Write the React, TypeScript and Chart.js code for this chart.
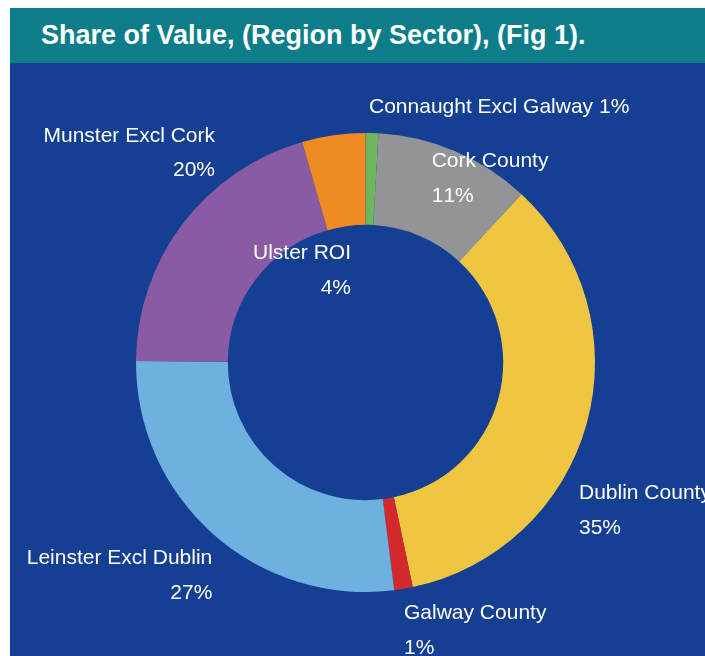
import React, { useEffect, useRef } from "react";
import { Chart, registerables } from "chart.js";

Chart.register(...registerables);

const TITLE = "Share of Value, (Region by Sector), (Fig 1).";

const categories = [
  "Connaught Excl Galway",
  "Cork County",
  "Dublin County",
  "Galway County",
  "Leinster Excl Dublin",
  "Munster Excl Cork",
  "Ulster ROI",
];

const shares = [0.9, 11.0, 34.8, 1.3, 27.1, 20.45, 4.45];

const sliceColors = [
  "#6db65b",
  "#939498",
  "#eec641",
  "#d3292b",
  "#6eb0e0",
  "#8a5ba5",
  "#ee8b22",
];

// Label anchor layout (canvas px): x, baseline of first line, alignment, single-line flag
const labelLayout = [
  { x: 359, y: 50.3, align: "left", oneLine: true },
  { x: 421.7, y: 104.3, align: "left", oneLine: false },
  { x: 569, y: 436, align: "left", oneLine: false },
  { x: 394, y: 556, align: "left", oneLine: false },
  { x: 202.3, y: 501, align: "right", oneLine: false },
  { x: 205, y: 78.7, align: "right", oneLine: false },
  { x: 341, y: 196.3, align: "right", oneLine: false },
];

const PANEL_BG = "#143f92";
const HEADER_BG = "#0c7d89";
const FONT = '"Liberation Sans", Arial, Helvetica, sans-serif';

const labelPlugin = {
  id: "sliceLabels",
  afterDatasetsDraw(chart: any) {
    const ctx = chart.ctx;
    const data = chart.data.datasets[0].data as number[];
    const total = data.reduce((a: number, b: number) => a + b, 0);
    ctx.save();
    ctx.fillStyle = "#ffffff";
    ctx.font = `21px ${FONT}`;
    try {
      (ctx as any).fontKerning = "none";
    } catch (e) {}
    ctx.textBaseline = "alphabetic";
    data.forEach((v: number, i: number) => {
      const pct = Math.round((v / total) * 100) + "%";
      const lay = labelLayout[i];
      const lines = lay.oneLine ? [`${categories[i]} ${pct}`] : [categories[i], pct];
      ctx.textAlign = lay.align;
      lines.forEach((t, k) => ctx.fillText(t, lay.x, lay.y + k * 34.5));
    });
    ctx.restore();
  },
};

export default function App() {
  const canvasRef = useRef<HTMLCanvasElement | null>(null);

  useEffect(() => {
    document.body.style.margin = "0";
    document.body.style.overflow = "hidden";
    const canvas = canvasRef.current;
    if (!canvas) return;
    const chart = new Chart(canvas, {
      type: "doughnut",
      data: {
        labels: categories,
        datasets: [
          {
            data: shares,
            backgroundColor: sliceColors,
            borderWidth: 0,
            hoverOffset: 0,
            offset: 0,
          },
        ],
      },
      options: {
        responsive: true,
        maintainAspectRatio: false,
        animation: false,
        events: [],
        cutout: "60%",
        rotation: 0,
        layout: { padding: { left: 126, right: 110, top: 70, bottom: 64 } },
        plugins: {
          legend: { display: false },
          tooltip: { enabled: false },
          title: { display: false },
        },
      },
      plugins: [labelPlugin],
    } as any);
    return () => chart.destroy();
  }, []);

  return (
    <div style={{ position: "relative", width: 705, height: 656, background: "#ffffff", overflow: "hidden" }}>
      <div
        style={{
          position: "absolute",
          left: 10,
          top: 8,
          width: 695,
          height: 55,
          background: HEADER_BG,
        }}
      >
        <span
          style={{
            position: "absolute",
            left: 31,
            top: 13.5,
            fontFamily: FONT,
            fontWeight: "bold",
            fontSize: 27,
            lineHeight: "27px",
            color: "#ffffff",
            whiteSpace: "nowrap",
          }}
        >
          {TITLE}
        </span>
      </div>
      <div
        style={{
          position: "absolute",
          left: 10,
          top: 63,
          width: 695,
          height: 593,
          background: PANEL_BG,
        }}
      >
        <canvas ref={canvasRef} />
      </div>
    </div>
  );
}
